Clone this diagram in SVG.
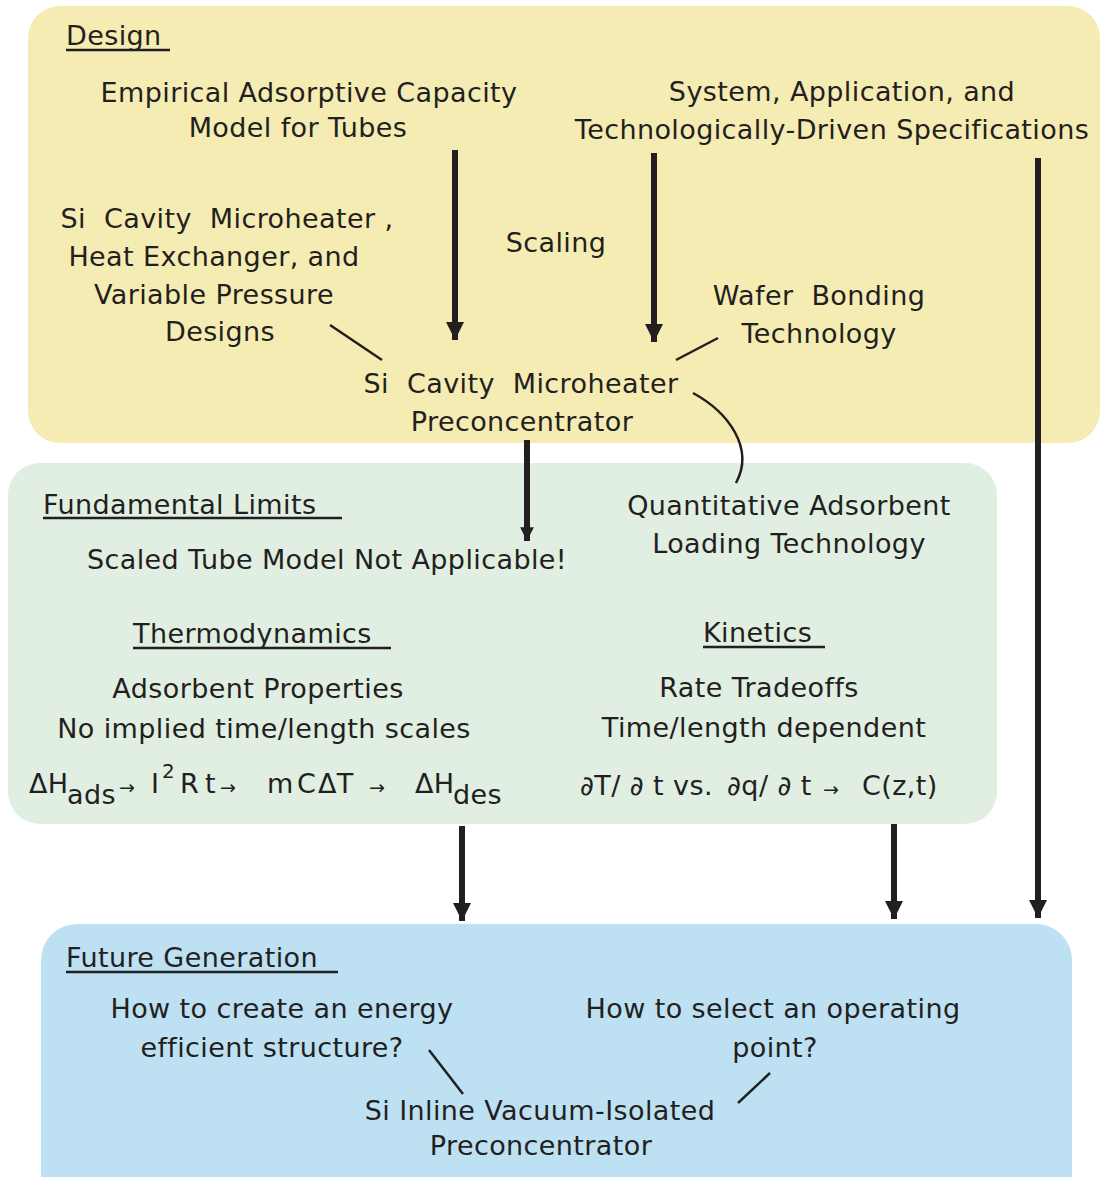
<svg xmlns="http://www.w3.org/2000/svg" width="1101" height="1177" viewBox="0 0 1101 1177">
<defs>
<style>
text{font-family:"DejaVu Sans","Liberation Sans",sans-serif;font-size:27px;letter-spacing:0.4px;fill:#231F20}
.c{text-anchor:middle}
.ar{font-size:19px;letter-spacing:0}
.u{stroke:#231F20;stroke-width:2.5}
.conn line,.conn path{stroke:#231F20;fill:none}
.thick{stroke-width:6}
.thin{stroke-width:2.5}
</style>
<marker id="ah2" viewBox="0 0 10 10" refX="10" refY="5" markerWidth="3.3" markerHeight="3.0" markerUnits="strokeWidth" orient="auto">
<path d="M0,0 L10,5 L0,10 Z" fill="#231F20"/>
</marker>
<marker id="ah3" viewBox="0 0 10 10" refX="10" refY="5" markerWidth="2.3" markerHeight="2.6" markerUnits="strokeWidth" orient="auto">
<path d="M0,0 L10,5 L0,10 Z" fill="#231F20"/>
</marker>
</defs>
<g id="design">
<rect x="28" y="6" width="1072" height="437" rx="32" fill="#F5ECB3"/>
<text x="66" y="45">Design</text>
<line class="u" x1="66" y1="50" x2="170" y2="50"/>
<text class="c" x="309" y="102">Empirical Adsorptive Capacity</text>
<text class="c" x="298" y="137">Model for Tubes</text>
<text class="c" x="842" y="101">System, Application, and</text>
<text class="c" x="832" y="139">Technologically-Driven Specifications</text>
<text class="c" x="227" y="228" xml:space="preserve">Si  Cavity  Microheater ,</text>
<text class="c" x="214" y="266">Heat Exchanger, and</text>
<text class="c" x="214" y="304">Variable Pressure</text>
<text class="c" x="220" y="341">Designs</text>
<text class="c" x="556" y="252">Scaling</text>
<text class="c" x="819" y="305" xml:space="preserve">Wafer  Bonding</text>
<text class="c" x="819" y="343">Technology</text>
<text class="c" x="521" y="393" xml:space="preserve">Si  Cavity  Microheater</text>
<text class="c" x="522" y="431">Preconcentrator</text>
</g>
<g id="limits">
<rect x="8" y="463" width="989" height="361" rx="32" fill="#E1EEE2"/>
<text x="43" y="514">Fundamental Limits</text>
<line class="u" x1="43" y1="518" x2="342" y2="518"/>
<text class="c" x="789" y="515">Quantitative Adsorbent</text>
<text class="c" x="789" y="553">Loading Technology</text>
<text class="c" x="327" y="569">Scaled Tube Model Not Applicable!</text>
<text x="133" y="643">Thermodynamics</text>
<line class="u" x1="133" y1="648" x2="391" y2="648"/>
<text x="703" y="642">Kinetics</text>
<line class="u" x1="703" y1="647" x2="825" y2="647"/>
<text class="c" x="258" y="698">Adsorbent Properties</text>
<text class="c" x="264" y="738">No implied time/length scales</text>
<text class="c" x="759" y="697">Rate Tradeoffs</text>
<text class="c" x="764" y="737">Time/length dependent</text>
<text y="793"><tspan x="29">ΔH</tspan><tspan x="67" y="804">ads</tspan><tspan class="ar" x="119" y="794">→</tspan><tspan x="151" y="793">I</tspan><tspan x="162" y="778" style="font-size:20px">2</tspan><tspan x="180" y="793">R</tspan><tspan x="205">t</tspan><tspan class="ar" x="220" y="794">→</tspan><tspan x="267" y="793">m</tspan><tspan x="297">C</tspan><tspan x="318">ΔT</tspan><tspan class="ar" x="369" y="794">→</tspan><tspan x="415" y="793">ΔH</tspan><tspan x="453" y="804">des</tspan></text>
<text y="795"><tspan x="580">∂T/ ∂ t vs.</tspan><tspan x="727">∂q/ ∂ t</tspan><tspan class="ar" x="823" y="796">→</tspan><tspan x="862" y="795">C(z,t)</tspan></text>
</g>
<g id="future">
<rect x="41" y="924" width="1031" height="290" rx="36" fill="#BDE0F3"/>
<text x="66" y="967">Future Generation</text>
<line class="u" x1="66" y1="972" x2="338" y2="972"/>
<text class="c" x="282" y="1018">How to create an energy</text>
<text class="c" x="272" y="1057">efficient structure?</text>
<text class="c" x="773" y="1018">How to select an operating</text>
<text class="c" x="775" y="1057">point?</text>
<text class="c" x="540" y="1120">Si Inline Vacuum-Isolated</text>
<text class="c" x="541" y="1155">Preconcentrator</text>
</g>
<g id="connectors" class="conn">
<line class="thick" x1="455" y1="150" x2="455" y2="340" marker-end="url(#ah2)"/>
<line class="thick" x1="654" y1="153" x2="654" y2="342" marker-end="url(#ah2)"/>
<line class="thick" x1="1038" y1="158" x2="1038" y2="918" marker-end="url(#ah2)"/>
<line class="thick" x1="527" y1="440" x2="527" y2="541" marker-end="url(#ah3)"/>
<line class="thick" x1="462" y1="826" x2="462" y2="921" marker-end="url(#ah2)"/>
<line class="thick" x1="894" y1="824" x2="894" y2="919" marker-end="url(#ah2)"/>
<line class="thin" x1="330" y1="325" x2="382" y2="360"/>
<line class="thin" x1="676" y1="360" x2="718" y2="338"/>
<path class="thin" d="M693,393 C728,412 755,448 736,483"/>
<line class="thin" x1="429" y1="1050" x2="463" y2="1094"/>
<line class="thin" x1="770" y1="1073" x2="738" y2="1103"/>
</g>
</svg>
